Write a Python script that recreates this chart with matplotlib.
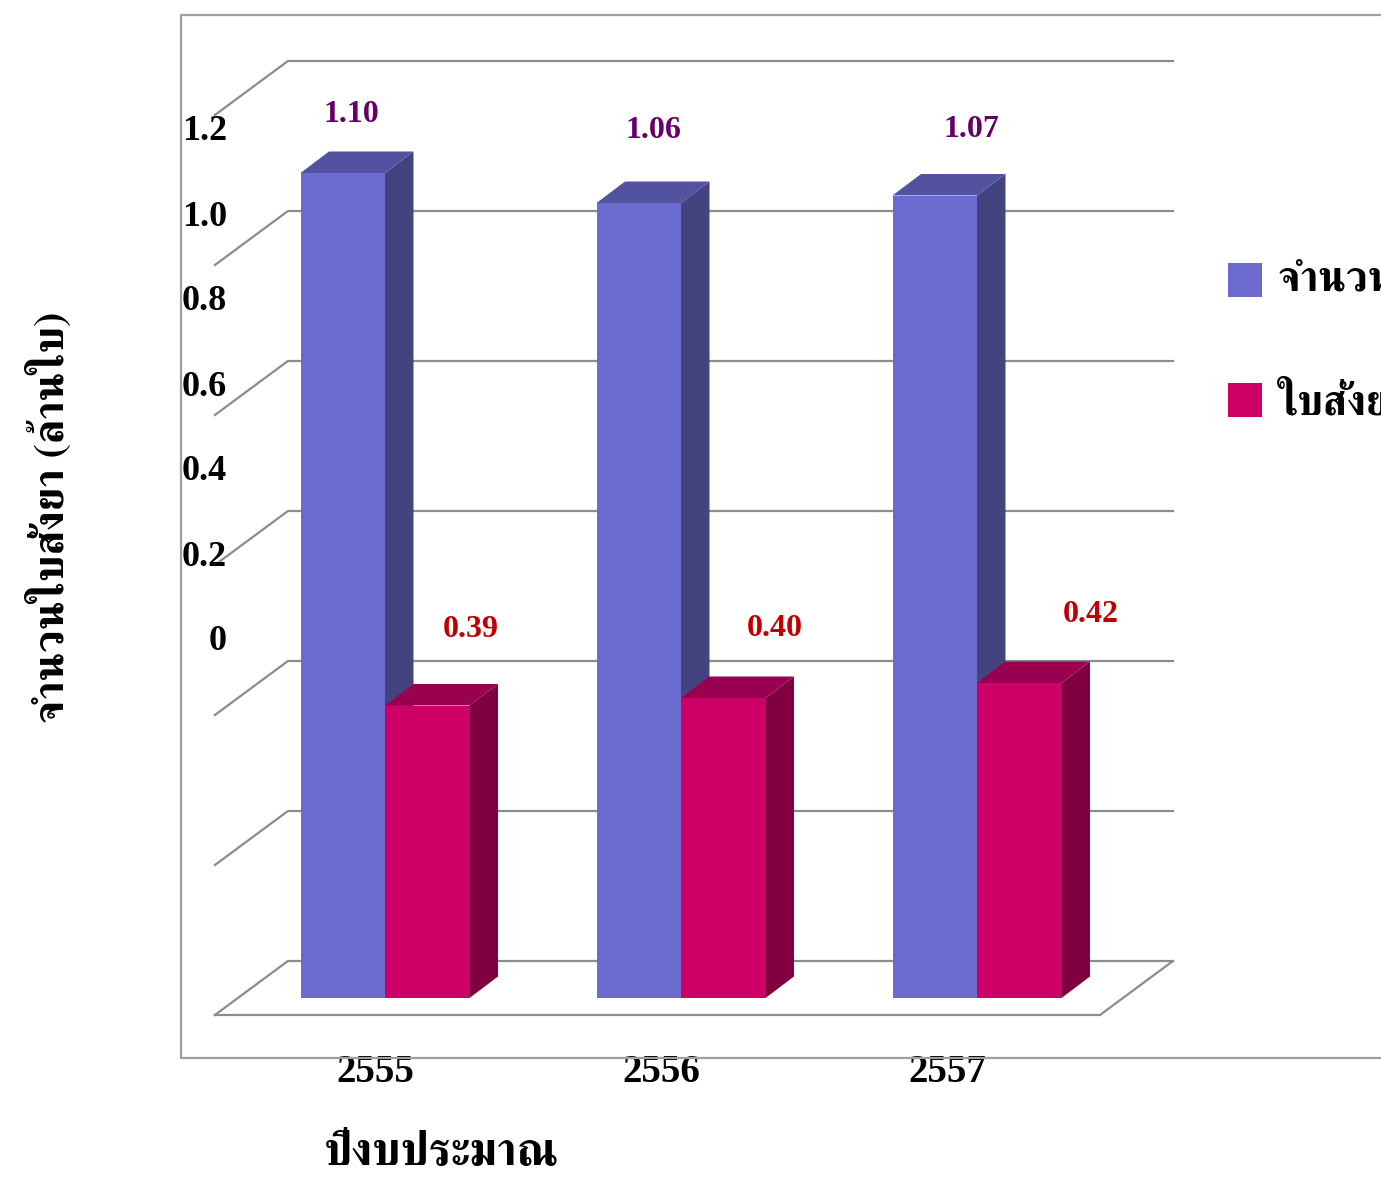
import matplotlib
matplotlib.use("Agg")
import matplotlib.pyplot as plt
from matplotlib.patches import Polygon, Rectangle

# ข้อมูล (ล้านใบ)
years = ["2555", "2556", "2557"]
total_rx = [1.10, 1.06, 1.07]
abx_rx = [0.39, 0.40, 0.42]
series_names = ["จำนวนใบสั่งยาทั้งหมด", "ใบสั่งยาที่มียาปฏิชีวนะ"]
yticks = [0, 0.2, 0.4, 0.6, 0.8, 1.0, 1.2]
ytick_text = ["0", "0.2", "0.4", "0.6", "0.8", "1.0", "1.2"]

THAI = ["FreeSerif", "DejaVu Sans"]
NUM = ["Liberation Serif", "DejaVu Serif"]

face = {"blue": ("#6b6bcf", "#5252a0", "#434380"),
        "red": ("#cc0066", "#99004f", "#800040")}

W, H = 1381, 1182
fig = plt.figure(figsize=(W / 100, H / 100), dpi=100)
ax = fig.add_axes([0, 0, 1, 1])
# 1 หน่วยแกน x = ระยะห่างระหว่างกลุ่ม, แกน y = ล้านใบ
PX_X, PX_Y = 296.0, 750.0
X0, Y0 = 385.0, 998.0
ax.set_xlim(-X0 / PX_X, (W - X0) / PX_X)
ax.set_ylim((Y0 - H) / PX_Y, Y0 / PX_Y)
ax.axis("off")

# ความลึกของกล่อง 3 มิติ
DX, DY = 73 / PX_X, 54 / PX_Y
F0 = 0.315          # ตำแหน่งหน้าแท่งบนพื้น
BX, BY = 28.5 / PX_X, 21.5 / PX_Y
bar_w = 84.5 / PX_X
xl, xr = -0.328 - DX * (1 - F0), 2.662 - DX * (1 - F0)


def depth(x, v, t):
    return x + (t - F0) * DX, v + (t - F0) * DY


grid_c = "#8c8c8c"
for v in yticks:
    a = depth(xl, v, 0)
    b = depth(xl, v, 1)
    c = depth(xr, v, 1)
    ax.plot([a[0], b[0], c[0]], [a[1], b[1], c[1]], color=grid_c, lw=1.6, zorder=1)
# ขอบพื้นด้านหน้าและด้านขวา
p = [depth(xl, 0, 0), depth(xr, 0, 0), depth(xr, 0, 1)]
ax.plot([q[0] for q in p], [q[1] for q in p], color=grid_c, lw=1.6, zorder=1)


def bar3d(x0, v, colors):
    front, top, side = colors
    ax.add_patch(Polygon([(x0 + bar_w, 0), (x0 + bar_w, v), (x0 + bar_w + BX, v + BY),
                          (x0 + bar_w + BX, BY)], closed=True, fc=side, ec="none", zorder=3))
    ax.add_patch(Polygon([(x0, v), (x0 + bar_w, v), (x0 + bar_w + BX, v + BY), (x0 + BX, v + BY)],
                         closed=True, fc=top, ec="none", zorder=3))
    ax.add_patch(Rectangle((x0, 0), bar_w, v, fc=front, ec="none", zorder=4))


blue_off = [(9, 58), (15, 73), (37, 66)]
red_off = [(44, 76), (51, 69), (72, 69)]
for i in range(len(years)):
    bar3d(i - bar_w, total_rx[i], face["blue"])
    bar3d(i, abx_rx[i], face["red"])
    ax.annotate(f"{total_rx[i]:.2f}", (i - bar_w / 2, total_rx[i]), xytext=blue_off[i],
                textcoords="offset pixels", ha="center", va="center", fontsize=23,
                fontweight="bold", family=NUM, color="#660066", zorder=6)
    ax.annotate(f"{abx_rx[i]:.2f}", (i + bar_w / 2, abx_rx[i]), xytext=red_off[i],
                textcoords="offset pixels", ha="center", va="center", fontsize=23,
                fontweight="bold", family=NUM, color="#c00000", zorder=6)

# ป้ายค่าบนแกน y
lab_base, lab_step = (Y0 - 642) / PX_Y, 85 / 0.2 / PX_Y
for t, s in zip(yticks, ytick_text):
    ax.text((227 - X0) / PX_X, lab_base + t * lab_step, s, ha="right", va="center",
            fontsize=26, fontweight="bold", family=NUM)

# ป้ายปีงบประมาณ
for i, y in enumerate(years):
    ax.text((375 + 286 * i - X0) / PX_X, (Y0 - 1073) / PX_Y, y, ha="center", va="center",
            fontsize=28, fontweight="bold", family=NUM)

fig.text(442 / W, 1 - 1155 / H, "ปีงบประมาณ", ha="center", va="center",
         fontsize=33, fontweight="bold", family=THAI)
fig.text(50 / W, 1 - 517 / H, "จำนวนใบสั่งยา (ล้านใบ)", ha="center", va="center",
         rotation=90, fontsize=31, fontweight="bold", family=THAI)

# กรอบพื้นที่แผนภูมิ
frame_c = "#a0a0a0"
fx0, fy0, fy1 = 181 / W, 1 - 1058 / H, 1 - 15 / H
fig.add_artist(plt.Line2D([1.0, fx0, fx0, 1.0], [fy1, fy1, fy0, fy0],
                          transform=fig.transFigure, color=frame_c, lw=1.6))

# คำอธิบายสัญลักษณ์ (ล้นขอบขวาของภาพ)
for k, (name, key) in enumerate(zip(series_names, ["blue", "red"])):
    cy = 280 + 120 * k
    fig.add_artist(Rectangle((1228 / W, 1 - (cy + 17) / H), 34 / W, 34 / H,
                             transform=fig.transFigure, fc=face[key][0], ec="none"))
    fig.text(1278 / W, 1 - cy / H, name, ha="left", va="center", fontsize=30,
             fontweight="bold", family=THAI)

fig.savefig("out.png", dpi=100)
